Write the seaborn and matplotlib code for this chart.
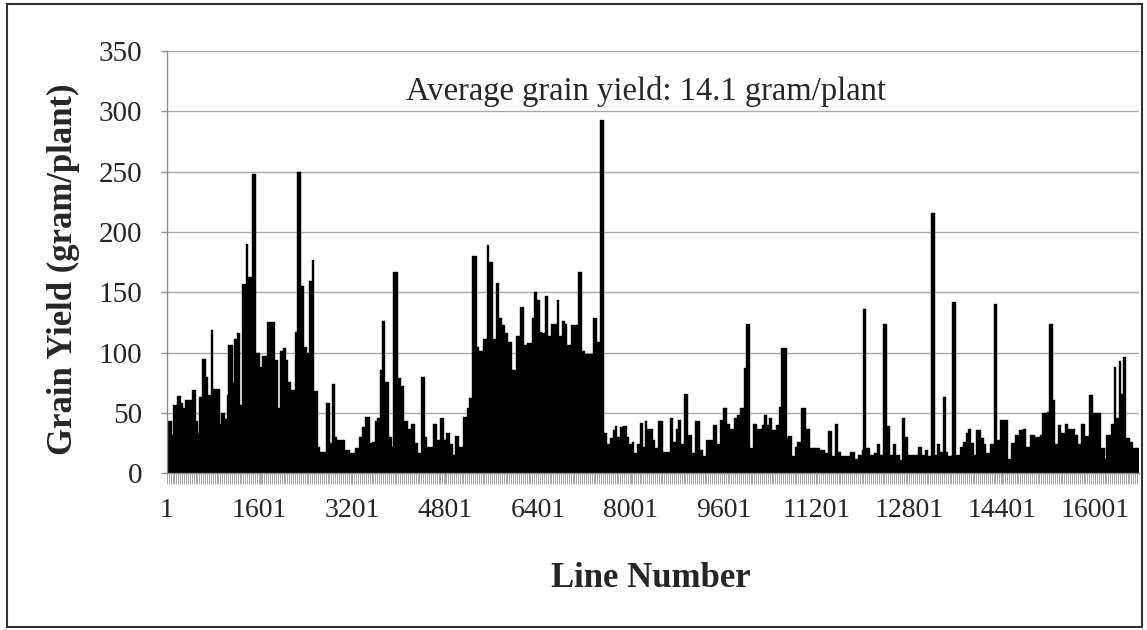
import numpy as np
import pandas as pd
import seaborn as sns
import matplotlib.pyplot as plt
from matplotlib.ticker import FixedLocator
from matplotlib.patches import Rectangle

sns.set_theme(style='white')
plt.rcParams['font.family'] = ['Liberation Serif', 'DejaVu Serif']

# grain yield: first line number of a run, yield of that run
run_start = [
    1, 15, 84, 112, 181, 240, 285, 314, 440, 503, 543, 560, 612, 670, 716, 757, 802, 917, 934,
    1003, 1032, 1060, 1136, 1159, 1205, 1262, 1296, 1365, 1405, 1463, 1538, 1607, 1636, 1722,
    1865, 1922, 1952, 1998, 2055, 2095, 2136, 2210, 2250, 2308, 2365, 2412, 2452, 2498, 2538,
    2601, 2641, 2744, 2813, 2842, 2900, 2928, 3072, 3158, 3244, 3319, 3359, 3417, 3503, 3532,
    3589, 3630, 3675, 3716, 3762, 3836, 3877, 3905, 3992, 4038, 4089, 4164, 4204, 4279, 4336,
    4377, 4451, 4492, 4595, 4652, 4710, 4779, 4813, 4882, 4940, 4969, 5043, 5112, 5170, 5216,
    5256, 5342, 5388, 5457, 5515, 5561, 5618, 5676, 5733, 5774, 5831, 5888, 5946, 6021, 6090,
    6159, 6205, 6291, 6331, 6388, 6434, 6475, 6521, 6578, 6618, 6722, 6768, 6808, 6866, 6906,
    6963, 7095, 7153, 7210, 7354, 7411, 7469, 7538, 7595, 7641, 7687, 7727, 7768, 7814, 7860,
    7929, 7969, 8015, 8055, 8101, 8159, 8204, 8244, 8273, 8388, 8417, 8474, 8560, 8675, 8733,
    8779, 8819, 8876, 8917, 8991, 9049, 9106, 9192, 9250, 9307, 9422, 9491, 9537, 9595, 9664,
    9710, 9779, 9836, 9882, 9951, 9986, 10055, 10112, 10170, 10256, 10296, 10342, 10388, 10445,
    10503, 10560, 10600, 10687, 10715, 10790, 10830, 10870, 10945, 11030, 11089, 11262, 11348,
    11405, 11463, 11520, 11578, 11635, 11779, 11865, 11923, 11980, 12009, 12066, 12124, 12193,
    12239, 12296, 12354, 12423, 12469, 12515, 12572, 12641, 12670, 12727, 12785, 12957, 13015,
    13072, 13130, 13187, 13245, 13285, 13331, 13377, 13434, 13474, 13532, 13549, 13618, 13676,
    13732, 13778, 13819, 13876, 13916, 13962, 14049, 14089, 14135, 14204, 14267, 14324, 14365,
    14508, 14566, 14623, 14698, 14767, 14824, 14882, 14968, 15054, 15100, 15181, 15215, 15284,
    15313, 15370, 15428, 15485, 15543, 15658, 15715, 15773, 15830, 15905, 15974, 16117, 16175,
    16204, 16290, 16330, 16376, 16422, 16462, 16491, 16548, 16606, 16663,
]
run_yield = [
    25, 43, 32, 57, 64, 58, 54, 61, 69, 43, 33, 63, 95, 80, 65, 119, 70, 41, 50,
    45, 65, 106, 75, 111, 116, 57, 157, 190, 163, 248, 100, 88, 97, 125,
    94, 54, 101, 104, 94, 76, 69, 117, 250, 155, 105, 100, 159, 177, 68,
    22, 18, 58, 25, 74, 30, 28, 19, 17, 21, 30, 38, 47, 25, 26,
    43, 46, 86, 126, 76, 30, 22, 167, 79, 72, 43, 37, 41, 25, 17,
    80, 30, 22, 41, 28, 46, 28, 33, 24, 15, 31, 22, 47, 54, 62,
    180, 105, 101, 111, 189, 175, 111, 158, 129, 123, 116, 109, 86, 114, 138,
    106, 108, 129, 150, 144, 117, 116, 147, 114, 124, 144, 114, 126, 124, 106,
    123, 167, 101, 99, 129, 109, 293, 33, 24, 29, 36, 39, 30, 38, 39,
    30, 24, 26, 17, 24, 42, 22, 43, 37, 28, 21, 43, 18, 46, 26,
    37, 44, 24, 66, 32, 17, 43, 19, 14, 28, 40, 24, 44, 54, 41,
    37, 46, 48, 54, 87, 124, 21, 41, 37, 40, 48, 40, 46, 36,
    40, 55, 104, 29, 31, 14, 22, 26, 54, 37, 21, 19, 17,
    35, 14, 41, 18, 14, 18, 12, 15, 19, 136, 21, 15, 17,
    24, 15, 124, 39, 15, 24, 15, 11, 46, 30, 15, 22, 15,
    19, 14, 216, 15, 24, 18, 63, 18, 14, 16, 142, 15, 22,
    26, 33, 37, 25, 15, 36, 29, 24, 17, 24, 140, 28, 44,
    12, 25, 32, 36, 37, 22, 32, 30, 32, 50, 51, 124, 61,
    24, 40, 33, 41, 37, 32, 24, 41, 31, 65, 50, 21, 12,
    32, 41, 88, 46, 93, 66, 96, 29, 26, 21,
]
last_line = 16765
x_tick_lines = list(range(1, 16002, 1600))
y_ticks = [0, 50, 100, 150, 200, 250, 300, 350]
note = 'Average grain yield: 14.1 gram/plant'

df = pd.DataFrame({'line': run_start, 'yield': run_yield})
edges = run_start + [last_line + 1]

W, H = 1147, 630
fig = plt.figure(figsize=(W / 100, H / 100), dpi=100)
ax = fig.add_axes([166.8 / W, 1 - 473.3 / H, (1139 - 166.8) / W, (473.3 - 51) / H])

sns.histplot(data=df, x='line', weights='yield', bins=edges, color='black', alpha=1,
             edgecolor='black', linewidth=0.3, ax=ax)

ax.set_xlim(1, last_line)
ax.set_ylim(0, 350)
ax.set_yticks(y_ticks)
ax.set_xticks(x_tick_lines)
ax.xaxis.set_minor_locator(FixedLocator(np.arange(1, last_line, 33)))

ax.grid(axis='y', color='#a8a8a8', lw=1)
ax.set_axisbelow(True)
for side in ['top', 'right']:
    ax.spines[side].set_visible(False)
for side in ['left', 'bottom']:
    ax.spines[side].set_color('#8c8c8c')
    ax.spines[side].set_linewidth(1)

ax.tick_params(axis='y', left=True, length=4.5, width=1, color='#8c8c8c', labelsize=21, pad=13)
ax.tick_params(axis='x', which='both', bottom=True, length=8, width=0.6, color='#9a9a9a', direction='out')
ax.tick_params(axis='x', which='major', labelsize=20, pad=10)

ax.set_ylabel('Grain Yield (gram/plant)', fontsize=25, fontweight='bold')
ax.yaxis.set_label_coords(-0.0888, 0.4838)
ax.set_xlabel('Line Number', fontsize=25, fontweight='bold')
ax.xaxis.set_label_coords(0.498, -0.21)

ax.text(8270, 309, note, ha='center', va='baseline', fontsize=23.5)

fig.add_artist(Rectangle((7 / W, 3 / H), (1142 - 7) / W, (626 - 3) / H, transform=fig.transFigure,
                         fill=False, edgecolor='#303030', linewidth=1.5))

fig.savefig('out.png', dpi=100, facecolor='white')
